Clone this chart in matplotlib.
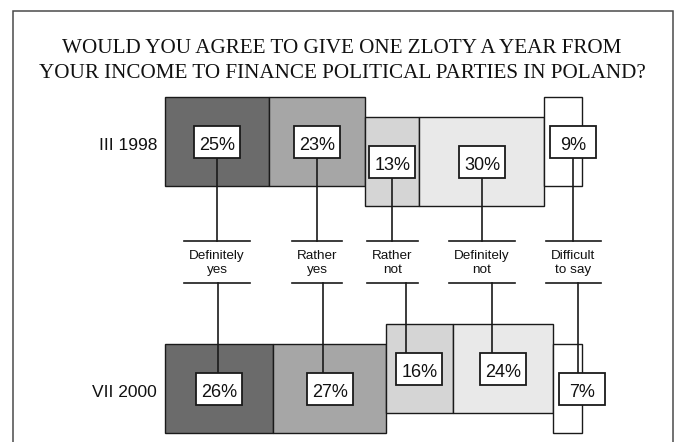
import matplotlib
matplotlib.use("Agg")
import matplotlib.pyplot as plt
from matplotlib.patches import Rectangle
import numpy as np

# ---------------- data ----------------
title_lines = ["WOULD YOU AGREE TO GIVE ONE ZLOTY A YEAR FROM",
               "YOUR INCOME TO FINANCE POLITICAL PARTIES IN POLAND?"]
categories = ["Definitely\nyes", "Rather\nyes", "Rather\nnot", "Definitely\nnot", "Difficult\nto say"]
periods = ["III 1998", "VII 2000"]
values_1998 = [25, 23, 13, 30, 9]
values_2000 = [26, 27, 16, 24, 7]
tone = [1, 1, -1, -1, 0]   # +1 positive, -1 negative, 0 neutral
colors = ["#6b6b6b", "#a6a6a6", "#d5d5d5", "#e9e9e9", "#ffffff"]

# ---------------- layout (pixels) ----------------
W, H = 688, 442
PX = 4.17          # pixels per percentage point
X0 = 165           # pixel of 0 %
row_center = [141.5, 388.6]
toward_mid = [1, -1]
neg_shift = 20
bar_h = 89
box_w_px, box_h = 46, 32
line_top, line_bot, label_y = 241, 282.5, 263

fig = plt.figure(figsize=(W / 100, H / 100), dpi=100)
ax = fig.add_axes([0, 0, 1, 1])
ax.set_xlim(-X0 / PX, (W - X0) / PX)
ax.set_ylim(H, 0)
ax.axis("off")

SANS = "Liberation Sans"
SERIF = "Liberation Serif"
EDGE = "#1a1a1a"
LW = 1.0

# frame
fx0, fx1, fy0 = (13 - X0) / PX, (672.5 - X0) / PX, 11
ax.plot([fx0, fx0, fx1, fx1], [H + 5, fy0, fy0, H + 5], color="#4a4a4a", lw=1.1,
        clip_on=False, solid_joinstyle="miter")

# title
cx_title = (342 - X0) / PX
ax.text(cx_title, 53.3, title_lines[0], ha="center", va="baseline",
        fontsize=15.2, family=SERIF, color="#111111")
ax.text(cx_title, 78.3, title_lines[1], ha="center", va="baseline",
        fontsize=15.2, family=SERIF, color="#111111")

box_w = box_w_px / PX
box_centers = []
box_ys = []
for r, vals in enumerate([values_1998, values_2000]):
    vals = np.array(vals, dtype=float)
    lefts = np.cumsum(vals) - vals
    yc = np.array([row_center[r] + (neg_shift * toward_mid[r] if t == -1 else 0) for t in tone])
    ax.barh(yc, vals, left=lefts, height=bar_h, color=colors, edgecolor=EDGE,
            linewidth=LW, zorder=1)
    cxs = []
    for v, l in zip(vals, lefts):
        if v * PX < box_w_px + 4:
            cxs.append(l + 6 / PX + box_w / 2)
        else:
            cxs.append(l + v / 2)
    box_centers.append(np.array(cxs))
    box_ys.append(yc)
    ax.text((157 - X0) / PX, row_center[r] + 8, periods[r], ha="right", va="baseline",
            fontsize=12.5, family=SANS, color="#111111")

label_x = box_centers[0]

# stems
for r in range(2):
    for i in range(len(categories)):
        sx = (box_centers[r][i] + label_x[i]) / 2
        if r == 0:
            y0, y1 = box_ys[r][i] + box_h / 2, line_top
        else:
            y0, y1 = line_bot, box_ys[r][i] - box_h / 2
        ax.plot([sx, sx], [y0, y1], color=EDGE, lw=LW * 1.2, zorder=2)

# percentage boxes
for r, vals in enumerate([values_1998, values_2000]):
    for i, v in enumerate(vals):
        cx, cy = box_centers[r][i], box_ys[r][i]
        ax.add_patch(Rectangle((cx - box_w / 2, cy - box_h / 2), box_w, box_h,
                               facecolor="white", edgecolor=EDGE, lw=LW * 1.3, zorder=3))
        ax.text(cx, cy + 8.5, f"{v}%", ha="center", va="baseline", fontsize=13,
                family=SANS, color="#111111", zorder=4)

# category labels with lines
texts = []
for i, c in enumerate(categories):
    t = ax.text(label_x[i], label_y, c, ha="center", va="center", fontsize=9.7,
                family=SANS, linespacing=1.3, color="#111111")
    texts.append(t)
fig.canvas.draw()
rend = fig.canvas.get_renderer()
for i, t in enumerate(texts):
    wpx = t.get_window_extent(rend).width
    hw = (wpx + 10) / 2 / PX
    for yy in (line_top, line_bot):
        ax.plot([label_x[i] - hw, label_x[i] + hw], [yy, yy], color=EDGE, lw=LW * 1.2, zorder=2)

fig.savefig("out.png", dpi=100)
